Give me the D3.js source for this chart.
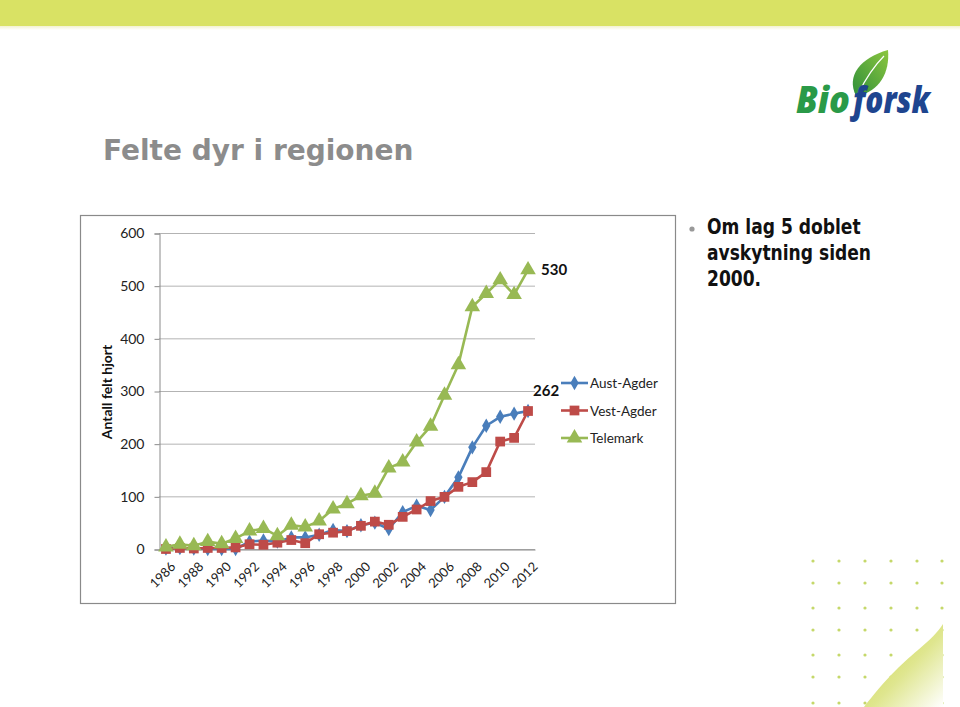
<!DOCTYPE html>
<html><head><meta charset="utf-8">
<script src="https://cdn.jsdelivr.net/npm/d3@7"></script>
<style>body{margin:0;background:#fff;}svg{display:block;}</style>
</head><body>
<svg id="c" width="960" height="707"></svg>
<script>
const years = d3.range(1986, 2013);
const austAgder = [1,2,1,0,0,0,14,16,14,22,22,27,36,34,45,50,38,70,82,74,99,136,193,234,251,257,262];
const vestAgder = [0,2,1,2,2,3,9,8,12,17,11,28,31,34,44,52,46,61,75,91,99,118,127,146,204,211,262];
const telemark  = [4,9,6,14,10,20,34,39,25,45,42,53,76,86,101,106,154,165,203,233,292,350,460,485,511,483,530];
const seriesNames = ["Aust-Agder","Vest-Agder","Telemark"];
const yTicks = [0,100,200,300,400,500,600];
const xTickYears = years.filter(y => (y - 1986) % 2 === 0);
const bulletLines = ["Om lag 5 doblet","avskytning siden","2000."];

const svg = d3.select("#c");
const defs = svg.append("defs");

// top banner
svg.append("rect").attr("x",0).attr("y",0).attr("width",960).attr("height",26).attr("fill","#d9e264");
const bg = defs.append("linearGradient").attr("id","bshade").attr("x1",0).attr("y1",0).attr("x2",0).attr("y2",1);
bg.append("stop").attr("offset",0).attr("stop-color","#f3f2d0");
bg.append("stop").attr("offset",1).attr("stop-color","#ffffff");
svg.append("rect").attr("x",0).attr("y",26).attr("width",960).attr("height",4).attr("fill","url(#bshade)");

// title
svg.append("text").attr("x",103).attr("y",160).text("Felte dyr i regionen")
  .attr("font-family","DejaVu Sans").attr("font-weight","bold").attr("font-size",28)
  .attr("fill","#8c8c8c");

// logo
const leafG = defs.append("linearGradient").attr("id","leaf").attr("x1",0).attr("y1",1).attr("x2",1).attr("y2",0);
leafG.append("stop").attr("offset",0).attr("stop-color","#2f8f3a");
leafG.append("stop").attr("offset",1).attr("stop-color","#8cc63f");
svg.append("path").attr("d","M856,96 C846,76 860,58 888,50 C890,72 880,92 856,96 Z").attr("fill","url(#leaf)");
svg.append("path").attr("d","M858,94 C865,80 873,67 884,56").attr("fill","none").attr("stroke","#fff").attr("stroke-width",1.2);
svg.append("text").attr("x",796).attr("y",113).text("Bio")
  .attr("font-family","Open Sans").attr("font-weight","800").attr("font-style","italic").attr("font-size",37)
  .attr("textLength",54).attr("lengthAdjust","spacingAndGlyphs").attr("fill","#2a9a48");
svg.append("text").attr("x",853).attr("y",113).text("forsk")
  .attr("font-family","Open Sans").attr("font-weight","800").attr("font-style","italic").attr("font-size",37)
  .attr("textLength",77).attr("lengthAdjust","spacingAndGlyphs").attr("fill","#1e458f");

// bullet text
svg.append("circle").attr("cx",692).attr("cy",229).attr("r",2.6).attr("fill","#999");
bulletLines.forEach((t,i)=>{
  svg.append("text").attr("transform",`translate(707,${234+i*26}) scale(0.815,1)`).text(t)
    .attr("font-family","DejaVu Sans").attr("font-weight","bold").attr("font-size",21).attr("fill","#111");
});

// bottom-right decoration
const dotXs = [813,839,865,891,917,942];
const dotYs = [561,583,608,630,655,677,703];
dotYs.forEach(yy=>dotXs.forEach(xx=>{
  svg.append("circle").attr("cx",xx).attr("cy",yy).attr("r",1.6).attr("fill","#c5d86a");
}));
const wg = defs.append("linearGradient").attr("id","wave").attr("x1",0).attr("y1",0).attr("x2",1).attr("y2",1);
wg.append("stop").attr("offset",0).attr("stop-color","#c9d544");
wg.append("stop").attr("offset",0.55).attr("stop-color","#dfe68f");
wg.append("stop").attr("offset",1).attr("stop-color","#ffffff");
svg.append("path").attr("d","M864,707 C885,680 900,665 918,650 C930,640 938,632 943,624 L943,707 Z").attr("fill","url(#wave)");

// chart frame
svg.append("rect").attr("x",80.5).attr("y",215.5).attr("width",595).attr("height",388)
  .attr("fill","#fff").attr("stroke","#8a8a8a").attr("stroke-width",1.2);

const x = d3.scalePoint().domain(years).range([159,535]).padding(0.5);
const y = d3.scaleLinear().domain([0,600]).range([549,233]);

// gridlines
svg.append("g").selectAll("line").data(yTicks).join("line")
  .attr("x1",159).attr("x2",535).attr("y1",d=>y(d)+0.5).attr("y2",d=>y(d)+0.5)
  .attr("stroke","#b3b3b3").attr("stroke-width",1);

// y axis
const yAxis = svg.append("g").attr("transform","translate(159.5,0.5)")
  .call(d3.axisLeft(y).tickValues(yTicks).tickSize(5).tickPadding(10));
yAxis.select(".domain").attr("stroke","#8a8a8a");
yAxis.selectAll(".tick line").attr("stroke","#8a8a8a");
yAxis.selectAll("text").attr("font-family","Lato").attr("font-size",14).attr("fill","#222");

// x axis
const xAxis = svg.append("g").attr("transform","translate(0,549.5)")
  .call(d3.axisBottom(x).tickValues(xTickYears).tickSize(0).tickPadding(0));
xAxis.select(".domain").attr("stroke","#8a8a8a");
xAxis.selectAll("text")
  .attr("font-family","Lato").attr("font-size",13).attr("fill","#222")
  .attr("text-anchor","end").attr("dy","0")
  .attr("transform","translate(10,18) rotate(-45)");

// y title
svg.append("text").attr("transform","translate(112,392) rotate(-90)").attr("text-anchor","middle")
  .attr("font-family","Lato").attr("font-weight","bold").attr("font-size",14).attr("fill","#111")
  .text("Antall felt hjort");

const colors = ["#4a7ebb","#be4b48","#98b954"];
const dataSets = [austAgder, vestAgder, telemark];
const shapes = [d3.symbolDiamond, d3.symbolSquare, d3.symbolTriangle];
const sizes = [60, 95, 105];
const line = d3.line().x((d,i)=>x(years[i])).y(d=>y(d));

dataSets.forEach((vals,k)=>{
  const g = svg.append("g");
  g.append("path").datum(vals).attr("d",line).attr("fill","none")
    .attr("stroke",colors[k]).attr("stroke-width",2.6).attr("stroke-linejoin","round");
  g.selectAll("path.m").data(vals).join("path").attr("class","m")
    .attr("d",d3.symbol().type(shapes[k]).size(sizes[k]))
    .attr("transform",(d,i)=>`translate(${x(years[i])},${y(d)})`)
    .attr("fill",colors[k]);
});

// end labels
svg.append("text").attr("x",541).attr("y",y(530)+5).text(telemark[telemark.length-1])
  .attr("font-family","Lato").attr("font-weight","bold").attr("font-size",15).attr("fill","#111");
svg.append("text").attr("x",533).attr("y",y(262)-15).text(vestAgder[vestAgder.length-1])
  .attr("font-family","Lato").attr("font-weight","bold").attr("font-size",15).attr("fill","#111");

// legend
seriesNames.forEach((n,k)=>{
  const ly = 383 + k*27.5;
  svg.append("line").attr("x1",561).attr("x2",588).attr("y1",ly).attr("y2",ly)
    .attr("stroke",colors[k]).attr("stroke-width",2.6);
  svg.append("path").attr("d",d3.symbol().type(shapes[k]).size(sizes[k]))
    .attr("transform",`translate(574.5,${ly})`).attr("fill",colors[k]);
  svg.append("text").attr("x",590).attr("y",ly+5).text(n)
    .attr("font-family","Lato").attr("font-size",13.5).attr("fill","#222");
});
</script>
</body></html>
